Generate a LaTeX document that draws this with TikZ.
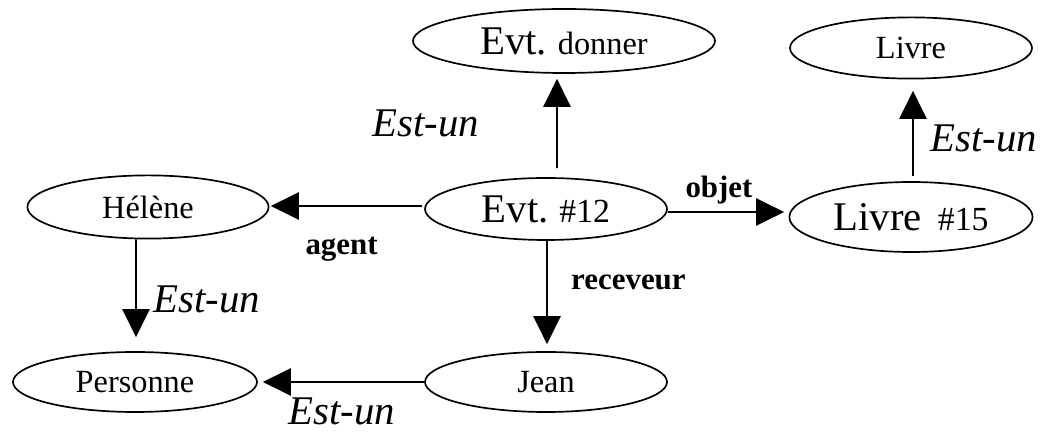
\documentclass[tikz,border=0pt]{standalone}
\usepackage{fontspec}
\setmainfont{Liberation Serif}
\usetikzlibrary{shapes.geometric,arrows.meta}
\newcommand{\gros}{\fontsize{29}{32}\selectfont}
\newcommand{\moyen}{\fontsize{24}{27}\selectfont}
\begin{document}
\begin{tikzpicture}[
  concept/.style={ellipse,draw,line width=1.2pt,inner sep=0pt,font=\fontsize{23}{26}\selectfont},
  fleche/.style={line width=1.2pt,-{Triangle[length=0.7cm,width=0.68cm]}},
  rel/.style={anchor=base,font=\bfseries\fontsize{22}{24}\selectfont},
  estun/.style={anchor=base,font=\itshape\fontsize{29}{32}\selectfont}]
\useasboundingbox (0,0) rectangle (26.2,10.8);
\node[concept,minimum width=7.55cm,minimum height=1.6cm] (donner) at (14.1,9.775) {{\gros Evt.} donner};
\node[concept,minimum width=6.05cm,minimum height=1.53cm] (livre) at (22.775,9.6) {Livre};
\node[concept,minimum width=6.03cm,minimum height=1.58cm] (helene) at (3.7,5.625) {Hélène};
\node[concept,minimum width=6.05cm,minimum height=1.55cm] (evt) at (13.65,5.575) {{\gros Evt.} {\moyen\#12}};
\node[concept,minimum width=6.08cm,minimum height=1.75cm] (livre15) at (22.775,5.375) {{\gros Livre}\ \ {\moyen\#15}};
\node[concept,minimum width=6.1cm,minimum height=1.5cm] (personne) at (3.375,1.25) {Personne};
\node[concept,minimum width=6.05cm,minimum height=1.5cm] (jean) at (13.65,1.25) {Jean};
\draw[fleche] ([xshift=0.275cm,yshift=0.225cm]evt.north) -- ([xshift=-0.175cm,yshift=-0.125cm]donner.south);
\draw[fleche] ([xshift=-0.05cm,yshift=0.075cm]evt.west) -- ([xshift=0.035cm,yshift=0.025cm]helene.east);
\draw[fleche] ([xshift=-0.3cm]helene.south) -- ([xshift=0.025cm,yshift=0.35cm]personne.north);
\draw[fleche] (jean.west) -- ([xshift=0.125cm]personne.east);
\draw[fleche] ([xshift=0.025cm]evt.south) -- ([xshift=0.025cm,yshift=0.175cm]jean.north);
\draw[fleche] ([yshift=-0.075cm]evt.east) -- ([xshift=-0.11cm,yshift=0.125cm]livre15.west);
\draw[fleche] ([xshift=0.05cm,yshift=0.125cm]livre15.north) -- ([xshift=0.05cm,yshift=-0.285cm]livre.south);
\node[estun] (e1) at (10.65,7.375) {Est-un};
\node[estun] (e2) at (24.59,7.0) {Est-un};
\node[estun] (e3) at (5.175,2.975) {Est-un};
\node[estun] (e4) at (8.55,0.18) {Est-un};
\node[rel] (agent) at (8.54,4.425) {agent};
\node[rel] (objet) at (17.975,5.85) {objet};
\node[rel] (receveur) at (15.71,3.55) {receveur};
\end{tikzpicture}
\end{document}
